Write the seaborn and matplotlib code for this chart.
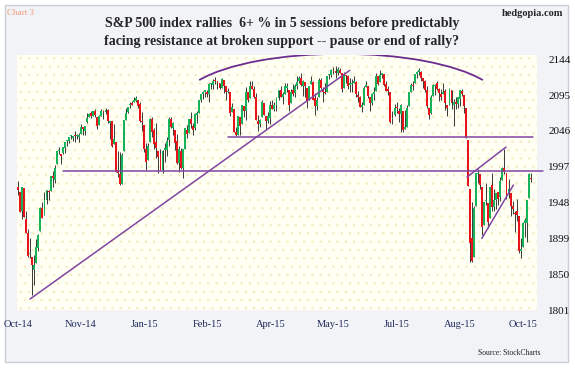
import matplotlib
matplotlib.use("Agg")
import matplotlib.pyplot as plt
import numpy as np
import seaborn as sns
from matplotlib.patches import Arc, Rectangle

# S&P 500 daily sessions, 6 Oct 2014 .. 6 Oct 2015 (rounded)
OPEN = [
    1970, 1962, 1936, 1968, 1926, 1906, 1877, 1874, 1856, 1865, 1886, 1909, 1941, 1931, 1952, 1963, 1964, 1983, 1979, 2001,
    2018, 2015, 2016, 2023, 2032, 2032, 2039, 2037, 2040, 2039, 2038, 2042, 2051, 2046, 2058, 2065, 2070, 2067, 2074,
    2065, 2054, 2067, 2074, 2072, 2075, 2057, 2059, 2028, 2031, 1992, 1987, 1974, 2019, 2061, 2072, 2081, 2083, 2085, 2087, 2089, 2083,
    2059, 2054, 2022, 2006, 2031, 2063, 2047, 2031, 2018, 2014, 1992, 2020, 2020, 2034, 2063, 2050, 2047, 2032, 2002, 2019,
    1996, 2022, 2048, 2043, 2062, 2053, 2050, 2068, 2070, 2089, 2096, 2100, 2099, 2097, 2110, 2109, 2115, 2114, 2111,
    2105, 2116, 2107, 2099, 2100, 2072, 2076, 2045, 2041, 2065, 2055, 2080, 2073, 2099, 2091, 2108, 2104, 2093, 2060, 2055, 2065, 2084,
    2067, 2060, 2064, 2081, 2076, 2082, 2091, 2102, 2092, 2097, 2105, 2102, 2084, 2102, 2098, 2107, 2115, 2119, 2108, 2113, 2105,
    2088, 2110, 2113, 2091, 2080, 2092, 2116, 2102, 2100, 2100, 2122, 2122, 2129, 2128, 2125, 2130, 2125, 2105, 2122, 2121,
    2109, 2110, 2111, 2113, 2095, 2093, 2079, 2081, 2106, 2107, 2092, 2084, 2097, 2101, 2121, 2113, 2123, 2124, 2110, 2102, 2099, 2062,
    2068, 2078, 2073, 2069, 2073, 2049, 2052, 2080, 2100, 2109, 2111, 2124, 2127, 2127, 2118, 2114, 2102, 2078, 2070, 2094, 2107, 2112,
    2104, 2097, 2096, 2101, 2082, 2081, 2102, 2082, 2086, 2083, 2090, 2101, 2095, 2077, 2034, 1966, 1899, 1873, 1943, 1987, 1987,
    1970, 1917, 1950, 1947, 1927, 1972, 1942, 1951, 1963, 1955, 1979, 1995, 1989, 1961, 1961, 1943, 1934, 1936, 1929, 1882, 1887,
    1920, 1920, 1954, 1982,
]
HIGH = [
    1978, 1962, 1970, 1968, 1937, 1912, 1899, 1874, 1876, 1898, 1905, 1942, 1949, 1962, 1965, 1965, 1985, 1991, 1999, 2018,
    2024, 2015, 2024, 2031, 2034, 2038, 2040, 2039, 2046, 2042, 2043, 2056, 2052, 2053, 2071, 2070, 2074, 2073, 2076,
    2065, 2068, 2076, 2075, 2077, 2076, 2060, 2059, 2056, 2031, 2019, 2017, 2016, 2061, 2077, 2079, 2086, 2087, 2093, 2094, 2089, 2086,
    2072, 2054, 2030, 2030, 2064, 2065, 2050, 2057, 2018, 2021, 2020, 2029, 2038, 2065, 2065, 2058, 2047, 2042, 2025, 2023,
    2022, 2050, 2054, 2063, 2072, 2057, 2070, 2073, 2089, 2097, 2101, 2100, 2102, 2111, 2111, 2117, 2120, 2115, 2112,
    2118, 2116, 2107, 2105, 2100, 2084, 2076, 2051, 2066, 2065, 2081, 2080, 2106, 2099, 2114, 2115, 2107, 2098, 2068, 2063, 2088, 2084,
    2067, 2072, 2087, 2089, 2086, 2093, 2102, 2108, 2099, 2111, 2111, 2102, 2104, 2110, 2110, 2121, 2121, 2126, 2116, 2113, 2105,
    2108, 2121, 2115, 2098, 2092, 2118, 2118, 2106, 2111, 2121, 2124, 2131, 2134, 2135, 2133, 2132, 2125, 2127, 2122, 2122,
    2118, 2117, 2121, 2114, 2101, 2094, 2085, 2108, 2115, 2107, 2092, 2098, 2106, 2126, 2121, 2129, 2126, 2124, 2115, 2108, 2099, 2074,
    2083, 2085, 2078, 2083, 2073, 2075, 2081, 2100, 2111, 2115, 2124, 2128, 2132, 2128, 2119, 2116, 2107, 2078, 2095, 2110, 2110, 2115,
    2105, 2103, 2112, 2103, 2082, 2105, 2102, 2090, 2093, 2093, 2102, 2104, 2095, 2077, 2034, 1966, 1949, 1943, 1989, 1994, 1987,
    1970, 1949, 1975, 1947, 1970, 1988, 1966, 1961, 1963, 1983, 1997, 2021, 1989, 1980, 1961, 1950, 1937, 1953, 1929, 1899, 1921,
    1927, 1951, 1989, 1989,
]
LOW = [
    1958, 1935, 1925, 1928, 1906, 1874, 1872, 1821, 1835, 1865, 1882, 1909, 1927, 1931, 1946, 1951, 1964, 1969, 1975, 2001,
    2014, 2001, 2014, 2016, 2026, 2030, 2035, 2032, 2031, 2035, 2031, 2042, 2041, 2041, 2057, 2065, 2064, 2066, 2065,
    2049, 2054, 2067, 2063, 2069, 2057, 2035, 2024, 2028, 1990, 1983, 1972, 1974, 2019, 2061, 2070, 2078, 2081, 2085, 2086, 2078, 2058,
    2046, 2017, 1992, 2006, 2031, 2038, 2022, 2009, 1988, 1992, 1988, 2004, 2012, 2026, 2050, 2041, 2020, 2001, 1990, 1994,
    1981, 2022, 2036, 2043, 2050, 2041, 2048, 2057, 2070, 2086, 2090, 2093, 2092, 2086, 2103, 2104, 2110, 2104, 2104,
    2105, 2098, 2089, 2098, 2067, 2072, 2044, 2039, 2041, 2041, 2055, 2065, 2061, 2085, 2091, 2104, 2091, 2061, 2046, 2052, 2065, 2068,
    2049, 2057, 2056, 2076, 2074, 2074, 2089, 2092, 2083, 2097, 2100, 2073, 2084, 2094, 2092, 2103, 2112, 2108, 2094, 2093, 2078,
    2088, 2110, 2089, 2068, 2075, 2092, 2104, 2086, 2096, 2100, 2117, 2120, 2124, 2119, 2123, 2126, 2100, 2105, 2112, 2103,
    2100, 2099, 2111, 2093, 2086, 2079, 2072, 2081, 2106, 2091, 2073, 2081, 2088, 2101, 2109, 2113, 2119, 2108, 2101, 2095, 2057, 2056,
    2067, 2071, 2058, 2044, 2045, 2049, 2052, 2080, 2100, 2102, 2111, 2119, 2123, 2115, 2105, 2099, 2077, 2063, 2069, 2094, 2095, 2102,
    2087, 2088, 2096, 2075, 2067, 2081, 2076, 2053, 2076, 2077, 2080, 2094, 2070, 2036, 1971, 1867, 1867, 1873, 1943, 1975, 1966,
    1904, 1917, 1945, 1913, 1927, 1937, 1937, 1939, 1945, 1950, 1979, 1987, 1953, 1954, 1929, 1933, 1908, 1923, 1879, 1872, 1887,
    1901, 1894, 1954, 1976,
]
CLOSE = [
    1965, 1935, 1969, 1928, 1906, 1875, 1878, 1862, 1863, 1887, 1904, 1941, 1927, 1951, 1965, 1962, 1985, 1982, 1995, 2018,
    2018, 2012, 2024, 2031, 2032, 2038, 2040, 2038, 2039, 2040, 2041, 2052, 2049, 2053, 2064, 2069, 2067, 2073, 2068,
    2053, 2067, 2074, 2072, 2075, 2060, 2060, 2026, 2035, 1990, 1989, 1973, 2013, 2061, 2071, 2079, 2082, 2082, 2089, 2091, 2080, 2059,
    2058, 2021, 2003, 2026, 2062, 2045, 2028, 2023, 2011, 1993, 2019, 2023, 2032, 2063, 2052, 2057, 2030, 2002, 2021, 1995,
    2021, 2050, 2042, 2063, 2055, 2047, 2069, 2069, 2088, 2097, 2100, 2100, 2097, 2110, 2110, 2115, 2114, 2111, 2105,
    2117, 2108, 2099, 2101, 2071, 2079, 2044, 2040, 2066, 2053, 2081, 2074, 2100, 2089, 2108, 2104, 2092, 2061, 2056, 2061, 2086, 2068,
    2060, 2067, 2081, 2076, 2082, 2091, 2102, 2092, 2096, 2107, 2105, 2081, 2100, 2097, 2108, 2113, 2118, 2109, 2115, 2107, 2086,
    2108, 2114, 2089, 2080, 2088, 2116, 2105, 2099, 2098, 2121, 2123, 2129, 2128, 2126, 2131, 2126, 2104, 2123, 2121, 2107,
    2112, 2110, 2114, 2096, 2093, 2079, 2080, 2105, 2109, 2094, 2084, 2096, 2100, 2121, 2110, 2123, 2124, 2109, 2101, 2101, 2058, 2063,
    2077, 2077, 2069, 2081, 2047, 2051, 2077, 2100, 2109, 2107, 2124, 2127, 2128, 2119, 2114, 2102, 2080, 2068, 2093, 2109, 2109, 2104,
    2098, 2093, 2100, 2084, 2078, 2104, 2084, 2086, 2083, 2092, 2102, 2097, 2080, 2036, 1971, 1893, 1868, 1941, 1988, 1989, 1972,
    1914, 1949, 1951, 1921, 1969, 1942, 1952, 1961, 1953, 1978, 1995, 1990, 1958, 1967, 1943, 1939, 1932, 1931, 1882, 1884, 1920,
    1924, 1951, 1987, 1980,
]
assert len(OPEN) == len(HIGH) == len(LOW) == len(CLOSE) == 253

TICK_LABELS = ["Oct-14", "Nov-14", "Jan-15", "Feb-15", "Apr-15", "May-15", "Jul-15", "Aug-15", "Oct-15"]
TICK_SESSIONS = [0, 31, 62, 93, 124, 155, 186, 217, 248]
Y_TICKS = [1801, 1850, 1899, 1948, 1997, 2046, 2095, 2144]

# hand-drawn annotation lines (session index, index level)
TREND_X, TREND_Y = [5.9, 163.0], [1816, 2129]
SUPPORT_X, SUPPORT_Y = [22, 258], [1991, 1991]
SHELF_X, SHELF_Y = [103, 253], [2038, 2038]
WEDGE_HI_X, WEDGE_HI_Y = [220.6, 239.8], [1983, 2024]
WEDGE_LO_X, WEDGE_LO_Y = [227.9, 243.4], [1899, 1972]

UP, DOWN, PURPLE = "#17b35a", "#e8141a", "#8045a0"
W, H = 575, 369

sns.set_theme(style="white")
plt.rcParams["font.family"] = ["Liberation Serif", "DejaVu Serif"]
plt.rcParams["hatch.linewidth"] = 0.6

fig = plt.figure(figsize=(W / 100, H / 100), dpi=100, facecolor="white")
fig.patches.append(Rectangle((5 / W, 1 - 362 / H), 563 / W, 357 / H, transform=fig.transFigure,
                             facecolor="#f1f3f6", edgecolor="#c9cdd6", linewidth=1.0, zorder=-5))

ax = fig.add_axes([17 / W, 1 - 310 / H, 520 / W, 255 / H])
ax.set_facecolor("#fffff4")
ax.add_patch(Rectangle((0, 0), 1, 1, transform=ax.transAxes, facecolor="none",
                       edgecolor="#f3ecc4", linewidth=0, hatch="..", zorder=0))

idx = np.arange(len(CLOSE))
o, h, l, c = map(np.asarray, (OPEN, HIGH, LOW, CLOSE))
up = c >= o
ax.vlines(idx, l, h, color="#1a1a1a", linewidth=0.6, zorder=2)
body = np.maximum(np.abs(c - o), 2.0)
ax.bar(idx[up], body[up], bottom=np.minimum(o, c)[up], width=0.95, color=UP, linewidth=0, zorder=3)
ax.bar(idx[~up], body[~up], bottom=np.minimum(o, c)[~up], width=0.95, color=DOWN, linewidth=0, zorder=3)

for xs, ys in [(TREND_X, TREND_Y), (SUPPORT_X, SUPPORT_Y), (SHELF_X, SHELF_Y),
               (WEDGE_HI_X, WEDGE_HI_Y), (WEDGE_LO_X, WEDGE_LO_Y)]:
    ax.plot(xs, ys, color=PURPLE, linewidth=1.1, clip_on=False, zorder=4)
ax.add_patch(Arc((158.7, 2084.6), 157.2, 134.1, theta1=24, theta2=156,
                 color="#6b2c8e", linewidth=1.3, zorder=4))

ax.set_xlim(-0.5, 255)
ax.set_ylim(1801, 2150)
ax.yaxis.tick_right()
ax.set_yticks(Y_TICKS)
ax.set_yticklabels([str(v) for v in Y_TICKS], fontsize=8, color="#111111")
ax.set_xticks(TICK_SESSIONS)
ax.set_xticklabels(TICK_LABELS, fontsize=7.5, color="#1f2a5a")
ax.tick_params(axis="both", length=0)
ax.tick_params(axis="y", pad=8)
ax.tick_params(axis="x", pad=7)
sns.despine(ax=ax, left=True, bottom=True)

fig.text(282 / W, 1 - 24 / H, "S&P 500 index rallies  6+ % in 5 sessions before predictably",
         ha="center", va="center", fontsize=10, fontweight="bold")
fig.text(282 / W, 1 - 42 / H, "facing resistance at broken support -- pause or end of rally?",
         ha="center", va="center", fontsize=10, fontweight="bold")
fig.text(7 / W, 1 - 13 / H, "Chart 3", ha="left", va="center", fontsize=6.5, color="#ee9a78")
fig.text(563 / W, 1 - 14 / H, "hedgopia.com", ha="right", va="center", fontsize=7.5, fontweight="bold")
fig.text(540 / W, 1 - 353 / H, "Source: StockCharts", ha="right", va="center", fontsize=5.5, color="#222222")

fig.savefig("out.png", dpi=100, facecolor="white")
plt.close(fig)
